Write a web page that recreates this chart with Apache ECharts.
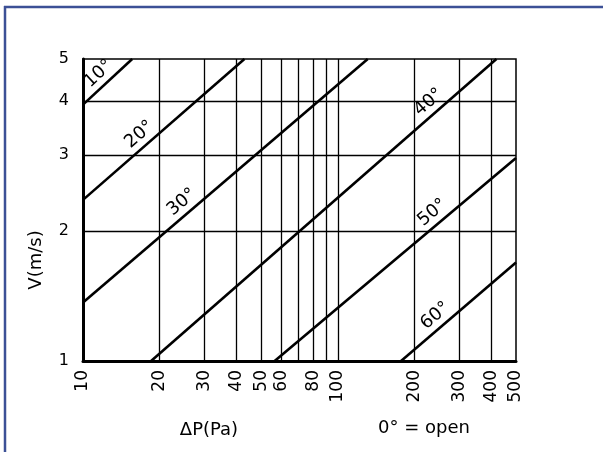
<!DOCTYPE html>
<html><head><meta charset="utf-8">
<script src="https://cdn.jsdelivr.net/npm/echarts@6/dist/echarts.min.js"></script>
<style>html,body{margin:0;padding:0;background:#fff}#c{width:603px;height:452px}</style>
</head><body><div id="c"></div>
<script>
// damper opening angles
const angles = ['10°', '20°', '30°', '40°', '50°', '60°'];
// each line: [ΔP (Pa), V (m/s)] end points
const line10 = [[10, 3.92], [15.6, 5]];
const line20 = [[10, 2.36], [43, 5]];
const line30 = [[10, 1.366], [131, 5]];
const line40 = [[18.5, 1], [419, 5]];
const line50 = [[56.5, 1], [500, 2.95]];
const line60 = [[177, 1], [500, 1.69]];
// ΔP where each angle label sits along its line
const labelAt = [12.4, 17.9, 26.2, 244, 252, 259];
const xTicks = [10, 20, 30, 40, 50, 60, 80, 100, 200, 300, 400, 500];
const xGrid = [20, 30, 40, 50, 60, 70, 80, 90, 100, 200, 300, 400];
const yTicks = [1, 2, 3, 4, 5];
const yGrid = [2, 3, 4];

const lines = [line10, line20, line30, line40, line50, line60];
const FONT = 'DejaVu Sans';
const chart = echarts.init(document.getElementById('c'), null, {renderer: 'canvas'});

const series = lines.map((d, i) => ({
  name: angles[i],
  type: 'line',
  data: d,
  symbol: 'none',
  clip: true,
  silent: true,
  animation: false,
  lineStyle: {color: '#000', width: 2.6},
  z: 5
}));
series.push({
  type: 'line',
  data: [],
  silent: true,
  animation: false,
  z: 3,
  markLine: {
    silent: true,
    animation: false,
    symbol: ['none', 'none'],
    label: {show: false},
    lineStyle: {color: '#000', width: 1.3, type: 'solid'},
    emphasis: {disabled: true},
    data: xGrid.map(v => ({xAxis: v})).concat(yGrid.map(v => ({yAxis: v})))
  }
});

chart.setOption({
  animation: false,
  backgroundColor: '#fff',
  grid: {left: 83, right: 87, top: 59, bottom: 91, show: true, borderColor: '#000', borderWidth: 1.5, backgroundColor: 'transparent'},
  xAxis: {
    type: 'log', logBase: 10, min: 10, max: 500,
    axisLine: {onZero: false, lineStyle: {color: '#000', width: 3}},
    axisTick: {show: false},
    splitLine: {show: false},
    minorTick: {show: false},
    axisLabel: {customValues: xTicks, rotate: 90, fontSize: 17, fontFamily: FONT, color: '#000', margin: 9, formatter: v => String(Math.round(v))}
  },
  yAxis: {
    type: 'log', logBase: 10, min: 1, max: 5,
    axisLine: {onZero: false, lineStyle: {color: '#000', width: 3}},
    axisTick: {show: false},
    splitLine: {show: false},
    axisLabel: {customValues: yTicks, fontSize: 16, fontFamily: FONT, color: '#000', margin: 14, formatter: v => String(Math.round(v))}
  },
  series: series
});

const graphics = [
  {type: 'line', id: 'fl', shape: {x1: 5, y1: 6, x2: 5, y2: 452}, style: {stroke: '#3c5096', lineWidth: 2.5}, silent: true},
  {type: 'line', id: 'ft', shape: {x1: 4, y1: 7, x2: 603, y2: 7}, style: {stroke: '#3c5096', lineWidth: 2.5}, silent: true},
  {type: 'text', id: 'yname', x: 36, y: 260, rotation: Math.PI / 2, style: {text: 'V(m/s)', font: '18px "DejaVu Sans"', fill: '#000', textAlign: 'center', textVerticalAlign: 'middle'}, silent: true},
  {type: 'text', id: 'xname', x: 209, y: 430, style: {text: 'ΔP(Pa)', font: '18px "DejaVu Sans"', fill: '#000', textAlign: 'center', textVerticalAlign: 'middle'}, silent: true},
  {type: 'text', id: 'note', x: 424, y: 428, style: {text: '0° = open', font: '18px "DejaVu Sans"', fill: '#000', textAlign: 'center', textVerticalAlign: 'middle'}, silent: true}
];

lines.forEach((d, i) => {
  const [x0, v0] = d[0], [x1, v1] = d[1];
  const x = labelAt[i];
  const t = (Math.log(x) - Math.log(x0)) / (Math.log(x1) - Math.log(x0));
  const v = Math.exp(Math.log(v0) + t * (Math.log(v1) - Math.log(v0)));
  const p = chart.convertToPixel({gridIndex: 0}, [x, v]);
  const a0 = chart.convertToPixel({gridIndex: 0}, d[0]);
  const a1 = chart.convertToPixel({gridIndex: 0}, d[1]);
  const a = Math.atan2(-(a1[1] - a0[1]), a1[0] - a0[0]);
  const off = 12;
  graphics.push({
    type: 'text', id: 'lab' + i,
    x: p[0] - Math.sin(a) * off, y: p[1] - Math.cos(a) * off,
    rotation: a,
    style: {text: angles[i], font: '18px "DejaVu Sans"', fill: '#000', textAlign: 'center', textVerticalAlign: 'middle'},
    silent: true, z: 10
  });
});

chart.setOption({graphic: graphics});
</script>
</body></html>
